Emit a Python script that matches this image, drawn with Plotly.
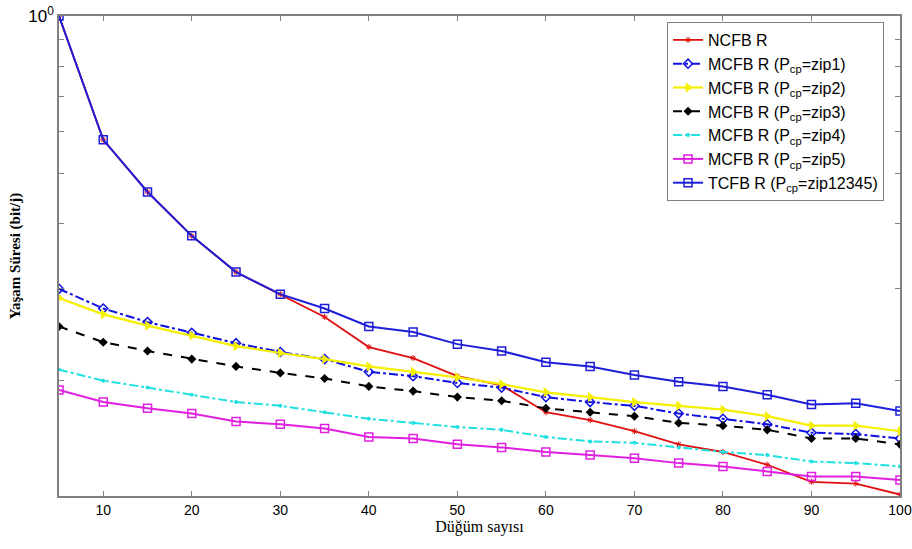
import plotly.graph_objects as go

x = [5, 10, 15, 20, 25, 30, 35, 40, 45, 50, 55, 60, 65, 70, 75, 80, 85, 90, 95, 100]

ncfb = [1.0, 0.579, 0.460, 0.379, 0.323, 0.293, 0.265, 0.232, 0.221, 0.204, 0.196, 0.174, 0.168, 0.160, 0.151, 0.146, 0.138, 0.128, 0.127, 0.121]
zip1 = [0.300, 0.275, 0.259, 0.247, 0.236, 0.227, 0.220, 0.208, 0.204, 0.198, 0.194, 0.186, 0.182, 0.179, 0.173, 0.169, 0.165, 0.159, 0.158, 0.155]
zip2 = [0.288, 0.268, 0.255, 0.244, 0.233, 0.226, 0.220, 0.213, 0.208, 0.203, 0.197, 0.190, 0.186, 0.182, 0.179, 0.176, 0.171, 0.164, 0.164, 0.160]
zip3 = [0.254, 0.237, 0.228, 0.220, 0.213, 0.207, 0.202, 0.195, 0.191, 0.186, 0.183, 0.177, 0.174, 0.171, 0.166, 0.164, 0.161, 0.155, 0.155, 0.151]
zip4 = [0.210, 0.200, 0.194, 0.188, 0.182, 0.179, 0.174, 0.169, 0.166, 0.163, 0.161, 0.156, 0.153, 0.152, 0.149, 0.146, 0.144, 0.140, 0.139, 0.137]
zip5 = [0.192, 0.182, 0.177, 0.173, 0.167, 0.165, 0.162, 0.156, 0.155, 0.151, 0.149, 0.146, 0.144, 0.142, 0.139, 0.137, 0.134, 0.131, 0.131, 0.129]
tcfb = [1.0, 0.579, 0.460, 0.379, 0.323, 0.293, 0.275, 0.254, 0.248, 0.235, 0.228, 0.217, 0.213, 0.205, 0.199, 0.195, 0.188, 0.180, 0.181, 0.175]

names = ["NCFB R",
         "MCFB R (P<sub>cp</sub>=zip1)",
         "MCFB R (P<sub>cp</sub>=zip2)",
         "MCFB R (P<sub>cp</sub>=zip3)",
         "MCFB R (P<sub>cp</sub>=zip4)",
         "MCFB R (P<sub>cp</sub>=zip5)",
         "TCFB R (P<sub>cp</sub>=zip12345)"]

ytickvals = [0.2, 0.3, 0.4, 0.5, 0.6, 0.7, 0.8, 0.9, 1.0]
yticktext = ["", "", "", "", "", "", "", "", "10<sup>0</sup>"]
xtickvals = [10, 20, 30, 40, 50, 60, 70, 80, 90, 100]

fig = go.Figure()

fig.add_trace(go.Scatter(x=x, y=ncfb, name=names[0], legendrank=1, mode="lines+markers",
                         line=dict(color="#e01010", width=1.8),
                         marker=dict(symbol="asterisk-open", size=5, color="#e01010", line=dict(color="#e01010", width=1))))
fig.add_trace(go.Scatter(x=x, y=zip1, name=names[1], legendrank=2, mode="lines+markers",
                         line=dict(color="#1010e0", width=2, dash="dashdot"),
                         marker=dict(symbol="diamond-open", size=7, color="#1010e0", line=dict(width=1.5))))
fig.add_trace(go.Scatter(x=x, y=zip2, name=names[2], legendrank=3, mode="lines+markers",
                         line=dict(color="#f4f000", width=2.2),
                         marker=dict(symbol="triangle-right", size=9, color="#f4f000")))
fig.add_trace(go.Scatter(x=x, y=zip3, name=names[3], legendrank=4, mode="lines+markers",
                         line=dict(color="black", width=2, dash="dash"),
                         marker=dict(symbol="diamond", size=7, color="black")))
fig.add_trace(go.Scatter(x=x, y=zip4, name=names[4], legendrank=5, mode="lines+markers",
                         line=dict(color="#20e0e0", width=2, dash="dashdot"),
                         marker=dict(symbol="circle", size=4, color="#20e0e0")))
fig.add_trace(go.Scatter(x=x, y=zip5, name=names[5], legendrank=6, mode="lines+markers",
                         line=dict(color="#e020e0", width=2),
                         marker=dict(symbol="square-open", size=8, color="#e020e0", line=dict(width=1.5))))
fig.add_trace(go.Scatter(x=x, y=tcfb, name=names[6], legendrank=7, mode="lines+markers",
                         line=dict(color="#1e1ed8", width=2),
                         marker=dict(symbol="square-open", size=8, color="#1e1ed8", line=dict(width=1.5))))

fig.update_layout(
    width=912, height=549,
    paper_bgcolor="white", plot_bgcolor="white",
    margin=dict(l=59, r=12, t=16, b=53),
    font=dict(family="Liberation Sans, Arial, sans-serif", size=14, color="black"),
    legend=dict(x=0.723, y=0.9875, xanchor="left", yanchor="top",
                bgcolor="white", bordercolor="#808080", borderwidth=1,
                font=dict(size=16), tracegroupgap=0),
    showlegend=True,
)

fig.update_xaxes(range=[5, 100], tickvals=xtickvals, ticks="inside", ticklen=5,
                 tickcolor="#808080", showline=True, linecolor="#808080", linewidth=1.5,
                 mirror="ticks", showgrid=False, zeroline=False, automargin=False,
                 title=dict(text="Düğüm sayısı", font=dict(family="Liberation Serif, Times New Roman, serif", size=16),
                            standoff=2))
fig.update_yaxes(type="log", range=[-0.92, 0], tickvals=ytickvals, ticktext=yticktext,
                 ticks="inside", ticklen=5, tickcolor="#808080", tickfont=dict(size=17),
                 showline=True, linecolor="#808080", linewidth=1.5, mirror="ticks",
                 showgrid=False, zeroline=False, automargin=False,
                 title=dict(text="<b>Yaşam Süresi (bit/j)</b>", font=dict(family="Liberation Serif, Times New Roman, serif", size=15),
                            standoff=4))

fig.write_html("out.html", config={"responsive": False, "displayModeBar": False},
               post_script="document.body.style.margin='0px';document.body.style.overflow='hidden';")
